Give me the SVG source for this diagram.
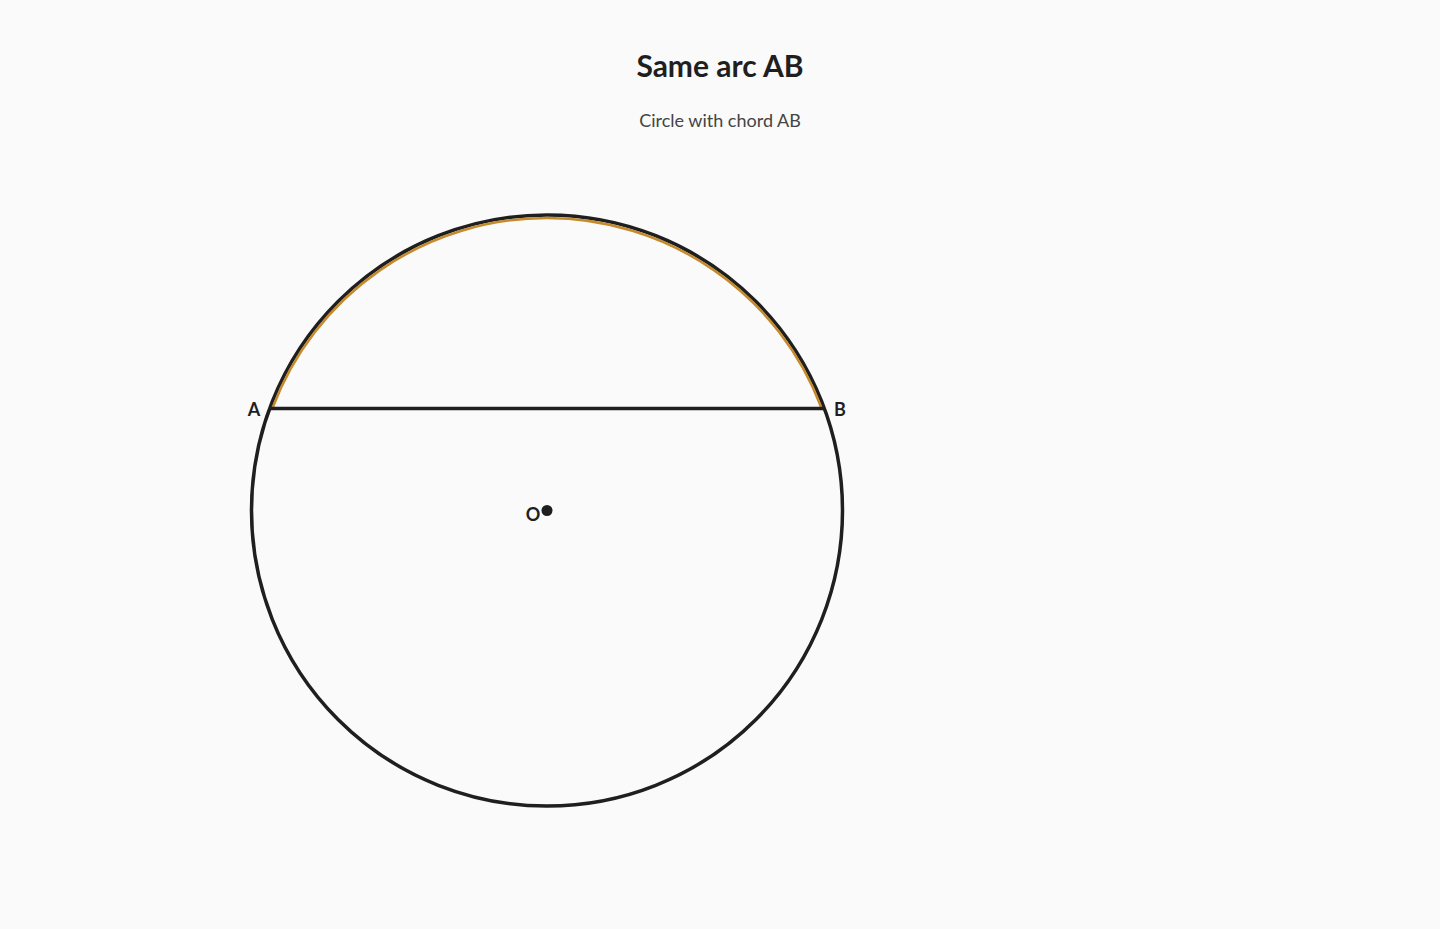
<svg xmlns="http://www.w3.org/2000/svg" width="1440" height="929" viewBox="0 0 1440 929">
<style>
.title{font-family:Lato,"Liberation Sans",sans-serif;font-weight:700;font-size:30px;fill:#1f1f1f;text-anchor:middle}
.sub{font-family:Lato,"Liberation Sans",sans-serif;font-size:18px;fill:#444;text-anchor:middle}
.lbl{font-family:Lato,"Liberation Sans",sans-serif;font-weight:700;font-size:18px;fill:#1f1f1f;text-anchor:middle;dominant-baseline:central}
.ink{fill:none;stroke:#1f1f1f;stroke-width:3.5}
.arc{fill:none;stroke:#c48a2c;stroke-width:2.5}
</style>
<rect width="1440" height="929" fill="#fafafa"/>
<text class="title" x="720" y="77">Same arc AB</text>
<text class="sub" x="720" y="127">Circle with chord AB</text>
<g id="circle"><circle class="ink" cx="547" cy="510.5" r="295.5"/></g>
<g id="arcAB"><path class="arc" d="M 272.5 408 A 293.3 293.3 0 0 1 821.5 408"/></g>
<g id="connectors"><line class="ink" x1="269.5" y1="408.5" x2="824.5" y2="408.5" stroke-width="3"/></g>
<g id="A"><text class="lbl" x="254" y="409">A</text></g>
<g id="B"><text class="lbl" x="840" y="409">B</text></g>
<g id="O"><circle cx="547" cy="510.5" r="5.5" fill="#1f1f1f"/><text class="lbl" x="533" y="514">O</text></g>
</svg>
